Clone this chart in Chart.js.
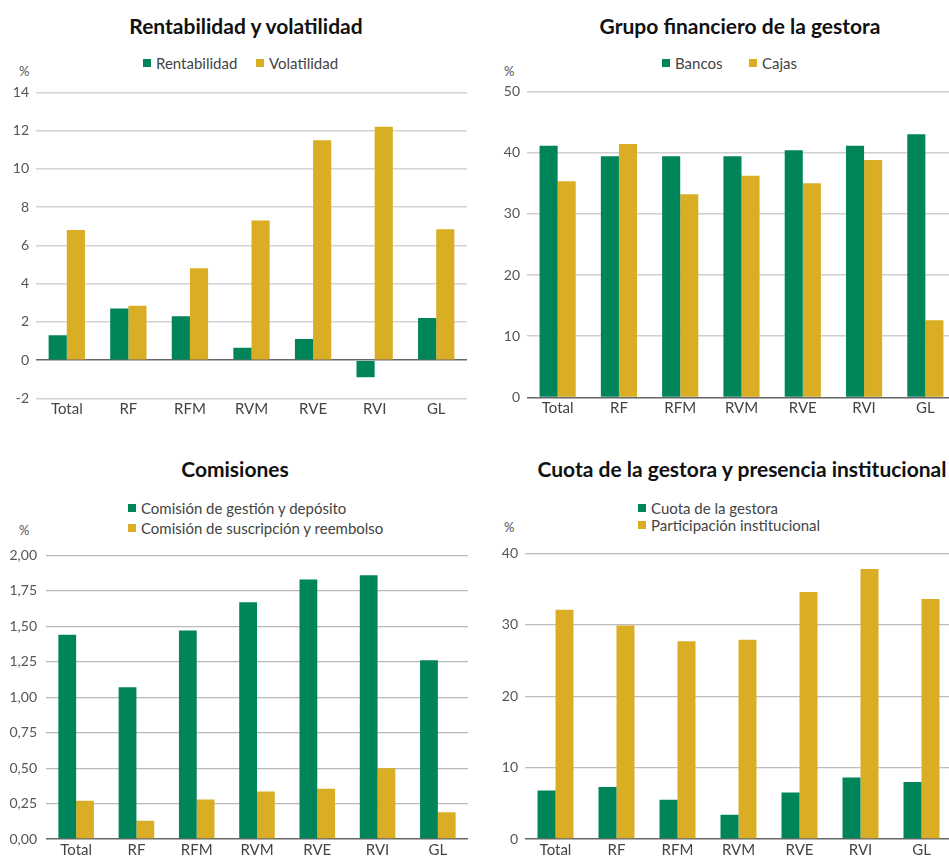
<!DOCTYPE html>
<html lang="es">
<head>
<meta charset="utf-8">
<script src="https://cdn.jsdelivr.net/npm/chart.js@4/dist/chart.umd.min.js"></script>
<style>
    html, body { margin: 0; padding: 0; background: #fff; }
    body { width: 949px; height: 857px; position: relative; overflow: hidden; font-family: Lato, "Open Sans", sans-serif; }
    .box { position: absolute; }
    .title { position: absolute; transform: translate(-50%, -50%); font-weight: bold; font-size: 21px; color: #111; white-space: nowrap; }
    .unit { position: absolute; transform: translateY(-50%); font-size: 13px; color: #555; }
    .leg { position: absolute; transform: translateY(-50%); font-size: 15px; color: #444; white-space: nowrap; display: flex; align-items: center; }
    .leg i { display: inline-block; width: 8px; height: 8px; margin-right: 5px; }
</style>
</head>
<body>
<script>
// Data
const categories = ['Total', 'RF', 'RFM', 'RVM', 'RVE', 'RVI', 'GL'];

const rentabilidad = [1.3, 2.7, 2.3, 0.65, 1.1, -0.9, 2.2];
const volatilidad = [6.8, 2.85, 4.8, 7.3, 11.5, 12.2, 6.85];

const bancos = [41.1, 39.4, 39.4, 39.4, 40.4, 41.1, 43.0];
const cajas = [35.3, 41.4, 33.2, 36.2, 35.0, 38.8, 12.6];

const comisionGestion = [1.44, 1.07, 1.47, 1.67, 1.83, 1.86, 1.26];
const comisionSuscripcion = [0.27, 0.13, 0.28, 0.335, 0.355, 0.50, 0.19];

const cuotaGestora = [6.8, 7.3, 5.5, 3.4, 6.5, 8.6, 8.0];
const participacionInst = [32.1, 29.9, 27.7, 27.9, 34.6, 37.8, 33.6];

const GREEN = '#00855a';
const GOLD = '#d9ae24';
const FONT = 'Lato, "Open Sans", sans-serif';

// Helper: plain absolutely positioned element
const addEl = (cls, text, x, y) => {
    const el = document.createElement('div');
    el.className = cls;
    el.textContent = text;
    el.style.left = x + 'px';
    el.style.top = y + 'px';
    document.body.appendChild(el);
    return el;
};

// Helper: one panel (title, legend, unit label, chart)
const makePanel = (p) => {
    addEl('title', p.title, p.titleX, p.titleY);
    addEl('unit', '%', p.unitX, p.unitY);

    p.legend.forEach((item, i) => {
        const el = addEl('leg', '', item.x, item.y);
        const sw = document.createElement('i');
        sw.style.background = i === 0 ? GREEN : GOLD;
        el.appendChild(sw);
        el.appendChild(document.createTextNode(p.labels[i]));
    });

    // y labels add (half label height + padding) above the top gridline
    const top = p.gridTop - (8.4 + p.tickPad);
    const box = document.createElement('div');
    box.className = 'box';
    box.style.left = p.left + 'px';
    box.style.top = top + 'px';
    box.style.width = p.width + 'px';
    box.style.height = (p.gridBottom + 22 - top) + 'px';
    const canvas = document.createElement('canvas');
    box.appendChild(canvas);
    document.body.appendChild(box);

    new Chart(canvas.getContext('2d'), {
        type: 'bar',
        data: {
            labels: categories,
            datasets: [
                { label: p.labels[0], data: p.series[0], backgroundColor: GREEN, borderWidth: 0 },
                { label: p.labels[1], data: p.series[1], backgroundColor: GOLD, borderWidth: 0 }
            ]
        },
        options: {
            responsive: true,
            maintainAspectRatio: false,
            animation: false,
            layout: { padding: 0 },
            datasets: { bar: { categoryPercentage: 0.59, barPercentage: 1.0 } },
            plugins: { legend: { display: false }, tooltip: { enabled: false } },
            scales: {
                x: {
                    grid: { display: false, drawTicks: false },
                    border: { display: false },
                    ticks: { color: '#444', font: { family: FONT, size: 15 }, padding: 2 },
                    afterFit: s => { s.height = 22; }
                },
                y: {
                    min: p.min,
                    max: p.max,
                    border: { display: false },
                    grid: {
                        drawTicks: false,
                        lineWidth: ctx => (ctx.tick && ctx.tick.value === 0) ? 1.5 : p.gridWidth,
                        color: ctx => (ctx.tick && ctx.tick.value === 0) ? '#666' : p.gridColor
                    },
                    ticks: {
                        stepSize: p.step,
                        padding: p.tickPad,
                        color: '#555',
                        font: { family: FONT, size: 14 },
                        callback: p.fmt || (v => v)
                    },
                    afterFit: s => { s.width = p.yWidth; }
                }
            }
        }
    });
};

// Rentabilidad y volatilidad
makePanel({
    title: 'Rentabilidad y volatilidad', titleX: 246, titleY: 25,
    unitX: 19, unitY: 71,
    labels: ['Rentabilidad', 'Volatilidad'],
    series: [rentabilidad, volatilidad],
    legend: [{ x: 143, y: 63 }, { x: 256, y: 63 }],
    left: 0, width: 467, gridTop: 92, gridBottom: 398, yWidth: 36, tickPad: 7,
    gridColor: '#d3d3d3', gridWidth: 1.6,
    min: -2, max: 14, step: 2
});

// Grupo financiero de la gestora
makePanel({
    title: 'Grupo financiero de la gestora', titleX: 740, titleY: 25,
    unitX: 504, unitY: 71,
    labels: ['Bancos', 'Cajas'],
    series: [bancos, cajas],
    legend: [{ x: 662, y: 63 }, { x: 749, y: 63 }],
    left: 490, width: 466, gridTop: 91.3, gridBottom: 397.3, yWidth: 37, tickPad: 7,
    gridColor: '#cfcfcf', gridWidth: 1.5,
    min: 0, max: 50, step: 10
});

// Comisiones
makePanel({
    title: 'Comisiones', titleX: 235, titleY: 468,
    unitX: 19, unitY: 530,
    labels: ['Comisión de gestión y depósito', 'Comisión de suscripción y reembolso'],
    series: [comisionGestion, comisionSuscripcion],
    legend: [{ x: 128, y: 508 }, { x: 128, y: 528 }],
    left: 0, width: 468, gridTop: 555, gridBottom: 838.7, yWidth: 46, tickPad: 9,
    gridColor: '#b9b9b9', gridWidth: 1.2,
    min: 0, max: 2, step: 0.25,
    fmt: v => v.toFixed(2).replace('.', ',')
});

// Cuota de la gestora y presencia institucional
makePanel({
    title: 'Cuota de la gestora y presencia institucional', titleX: 742, titleY: 468,
    unitX: 504, unitY: 527,
    labels: ['Cuota de la gestora', 'Participación institucional'],
    series: [cuotaGestora, participacionInst],
    legend: [{ x: 638, y: 508 }, { x: 638, y: 525 }],
    left: 490, width: 462, gridTop: 553.7, gridBottom: 839.3, yWidth: 35, tickPad: 7,
    gridColor: '#bdbdbd', gridWidth: 1.3,
    min: 0, max: 40, step: 10
});
</script>
</body>
</html>
